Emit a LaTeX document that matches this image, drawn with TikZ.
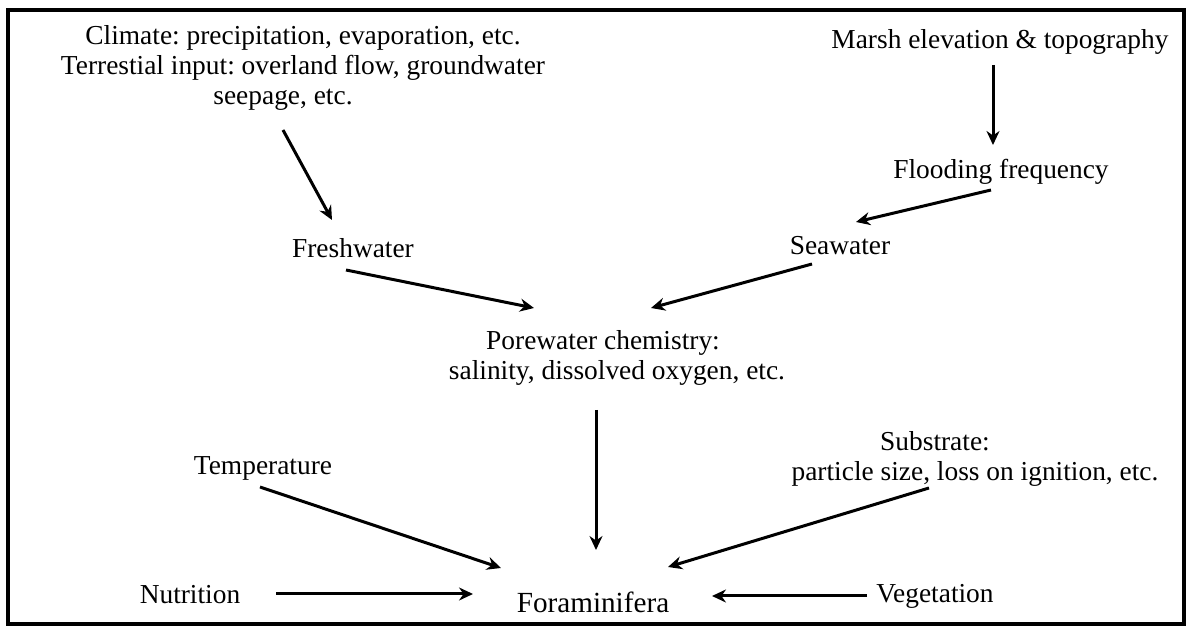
\documentclass[tikz,border=0pt]{standalone}
\usepackage{fontspec}
\setmainfont{Liberation Serif}
\usetikzlibrary{arrows.meta}
\frenchspacing
\begin{document}
\begin{tikzpicture}[>={Stealth[length=7pt,width=6.5pt]}, x=0.5pt, y=-0.5pt,
factor/.style={inner sep=0, font=\fontsize{13.7}{15}\selectfont, align=center},
influence/.style={->, line width=1.5pt}]
\useasboundingbox (0,0) rectangle (1190,630);
%%%%%%%%%%%%%%%%%%%%%%% FRAME %%%%%%%%%%%%%%%%%%%%%%%%%%%
\draw[line width=2pt] (8,10) rectangle (1184,624);
%%%%%%%%%%%%%%%%%%%%%%% FACTORS %%%%%%%%%%%%%%%%%%%%%%%%%
\node[factor] (climate) at (303,68) {Climate: precipitation, evaporation, etc.\\Terrestial input: overland flow, groundwater\\seepage, etc.\hspace*{20pt}};
\node[factor] (fresh) at (353,248) {Freshwater};
\node[factor] (marsh) at (1000,42) {Marsh elevation \& topography};
\node[factor] (flood) at (1001,172) {Flooding frequency};
\node[factor] (sea) at (840,246) {Seawater};
\node[factor] (pore) at (617,358) {Porewater chemistry:\hspace*{14pt}\\salinity, dissolved oxygen, etc.};
\node[factor] (temp) at (263,468) {Temperature};
\node[factor] (subst) at (975,459) {Substrate:\hspace*{40pt}\\particle size, loss on ignition, etc.};
\node[factor] (nutr) at (190,595) {Nutrition};
\node[factor, font=\fontsize{14.6}{16}\selectfont] (foram) at (593,602) {Foraminifera};
\node[factor] (veg) at (935,596) {Vegetation};
%%%%%%%%%%%%%%%%%%%%%%% ARROWS %%%%%%%%%%%%%%%%%%%%%%%%%%
\draw[influence] ([shift={(-20,62)}]climate.center) -- ([shift={(-21,-28)}]fresh.center);
\draw[influence] ([shift={(-7,22)}]fresh.center) -- ([shift={(-83,-50)}]pore.center);
\draw[influence] ([shift={(-7,23)}]marsh.center) -- ([shift={(-8,-27)}]flood.center);
\draw[influence] ([shift={(-10,18)}]flood.center) -- ([shift={(16,-24)}]sea.center);
\draw[influence] ([shift={(-28,18)}]sea.center) -- ([shift={(34,-50)}]pore.center);
\draw[influence] ([shift={(-21,52)}]pore.center) -- ([shift={(3,-52)}]foram.center);
\draw[influence] ([shift={(-3,19)}]temp.center) -- ([shift={(-92,-34)}]foram.center);
\draw[influence] ([shift={(-46,29)}]subst.center) -- ([shift={(75,-35)}]foram.center);
\draw[influence] ([shift={(86,-1)}]nutr.center) -- ([shift={(-120,-8)}]foram.center); % horizontal
\draw[influence] ([shift={(-68,0)}]veg.center) -- ([shift={(119,-6)}]foram.center); % horizontal
\end{tikzpicture}
\end{document}
